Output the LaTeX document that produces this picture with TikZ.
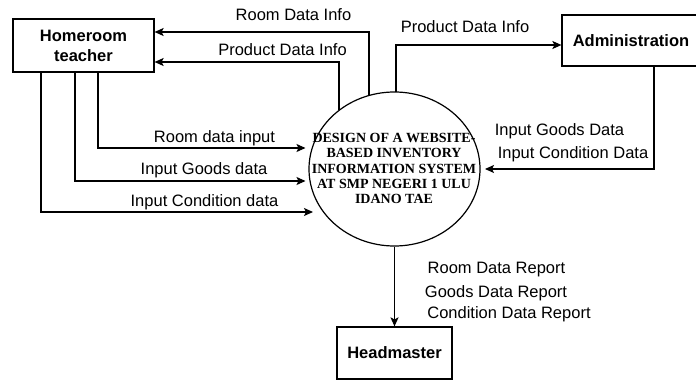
\documentclass[tikz,border=0pt]{standalone}
\usepackage{fontspec}
\setmainfont{Liberation Sans}
\newfontfamily\serifb{Liberation Serif}
\usetikzlibrary{arrows.meta,shapes.geometric}
\tikzset{
  box/.style={draw, line width=1.2pt, rectangle, inner sep=0pt, font=\bfseries\fontsize{16.5}{20}\selectfont, align=center},
  conn/.style={line width=1.2pt, -{Stealth[length=9pt,width=8pt,inset=2pt]}},
  lbl/.style={anchor=base, inner sep=0pt, font=\fontsize{16.5}{20}\selectfont}
}
\begin{document}
\begin{tikzpicture}[x=1pt,y=-1pt]
\useasboundingbox (0,0) rectangle (696,380);
\fill[white] (0,0) rectangle (696,380);
% entities
\node[box, minimum width=141pt, minimum height=53pt] (home) at (83.5,45.5) {Homeroom\\teacher};
\node[box, minimum width=138pt, minimum height=51pt] (admin) at (631,40.5) {Administration};
\node[box, minimum width=115pt, minimum height=52pt] (head) at (394.5,353) {Headmaster};
% process
\node[draw, line width=1.2pt, ellipse, minimum width=171pt, minimum height=154pt, inner sep=0pt] (proc) at (394.5,169) {};
\node[inner sep=0pt, align=center, font=\serifb\bfseries\fontsize{14}{15.3}\selectfont] (ptext) at (394,168.5)
  {DESIGN OF A WEBSITE-\\BASED INVENTORY\\INFORMATION SYSTEM\\AT SMP NEGERI 1 ULU\\IDANO TAE};
% points on the ellipse and arrow tips
\coordinate (e1) at (369,95.5);
\coordinate (e2) at (339,110.4);
\coordinate (e3) at (396,92);
\coordinate (t1) at (305.5,148);
\coordinate (t2) at (305.5,181);
\coordinate (t3) at (313,212);
\coordinate (t4) at (485,169);
% connectors
\draw[conn] (e1) |- (home.east |- 0,32);
\draw[conn] (e2) |- (home.east |- 0,62);
\draw[conn] (e3) |- (admin.west |- 0,45);
\draw[conn] (admin.south -| 654,0) |- (t4);
\draw[conn] (home.south -| 98,0) |- (t1);
\draw[conn] (home.south -| 75,0) |- (t2);
\draw[conn] (home.south -| 41,0) |- (t3);
\draw[conn] (proc.south) -- (head.north);
% labels
\node[lbl] (l1) at (293.5,20) {Room Data Info};
\node[lbl] (l2) at (282.5,55) {Product Data Info};
\node[lbl] (l3) at (465,32) {Product Data Info};
\node[lbl] (l4) at (559.5,135) {Input Goods Data};
\node[lbl] (l5) at (573,158) {Input Condition Data};
\node[lbl] (l6) at (214.5,142) {Room data input};
\node[lbl] (l7) at (204,174) {Input Goods data};
\node[lbl] (l8) at (204.5,206) {Input Condition data};
\node[lbl] (l9) at (496.5,273) {Room Data Report};
\node[lbl] (l10) at (496,297) {Goods Data Report};
\node[lbl] (l11) at (509,318) {Condition Data Report};
\end{tikzpicture}
\end{document}
